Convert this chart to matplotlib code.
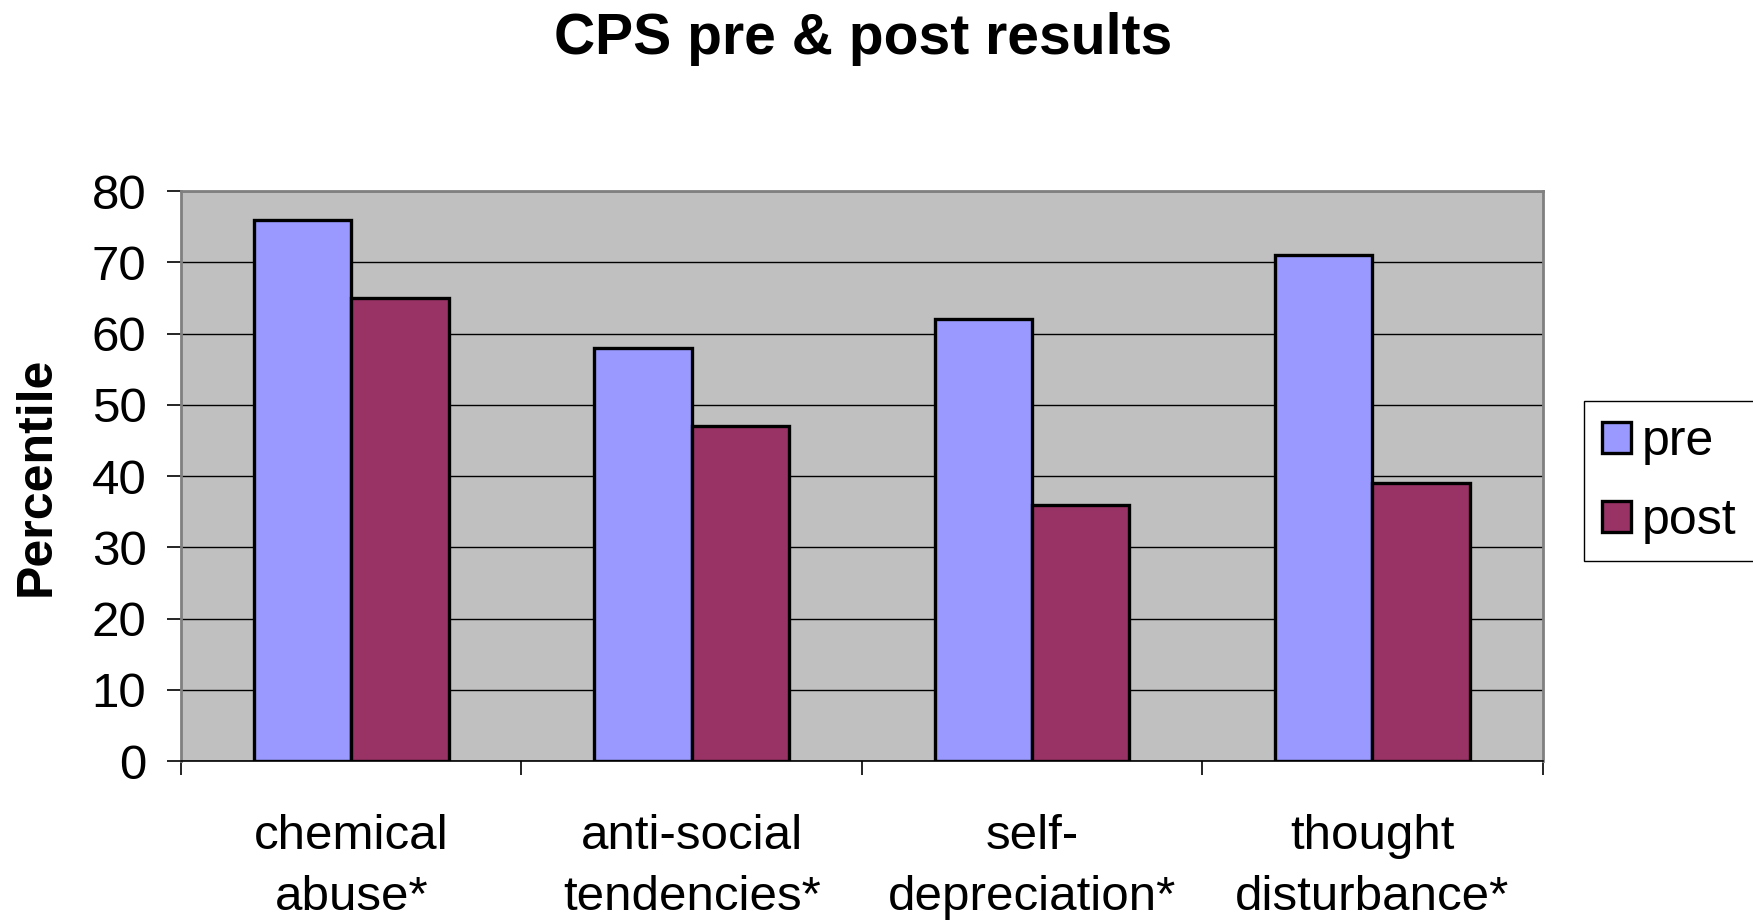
import numpy as np
import matplotlib
matplotlib.use("Agg")
import matplotlib.pyplot as plt
from matplotlib.ticker import FixedLocator

plt.rcParams["font.family"] = ["Liberation Sans", "DejaVu Sans"]

categories = ["chemical\nabuse*", "anti-social\ntendencies*", "self-\ndepreciation*", "thought\ndisturbance*"]
pre = [76, 58, 62, 71]
post = [65, 47, 36, 39]
y_ticks = [0, 10, 20, 30, 40, 50, 60, 70, 80]

pre_color = "#9999FF"
post_color = "#993366"

fig = plt.figure(figsize=(17.53, 9.22), dpi=100)
ax = fig.add_axes([0.1033, 0.1746, 0.7767, 0.6182])
ax.set_facecolor("#C0C0C0")

x = np.arange(len(categories))
w = 0.2857
ax.bar(x - w / 2, pre, w, color=pre_color, edgecolor="black", linewidth=2.4, label="pre", zorder=3)
ax.bar(x + w / 2, post, w, color=post_color, edgecolor="black", linewidth=2.4, label="post", zorder=3)

ax.set_xlim(-0.5, len(categories) - 0.5)
ax.set_ylim(0, 80)
ax.set_yticks(y_ticks)
ax.yaxis.grid(True, color="black", linewidth=1.0, zorder=1)
ax.set_axisbelow(True)

# category boundaries as major ticks, labels on minor ticks at the centres
ax.xaxis.set_major_locator(FixedLocator(np.arange(-0.5, len(categories), 1.0)))
ax.set_xticklabels([])
ax.xaxis.set_minor_locator(FixedLocator(x))
ax.set_xticklabels(categories, minor=True, fontsize=35.5, linespacing=1.47)
ax.tick_params(axis="x", which="major", direction="out", length=10, width=1.2, color="black")
ax.tick_params(axis="x", which="minor", length=0, pad=38)
ax.tick_params(axis="y", direction="out", length=10, width=1.2, color="black", labelsize=35.5, pad=15)

for side in ["top", "right", "left"]:
    ax.spines[side].set_color("#808080")
    ax.spines[side].set_linewidth(2)
ax.spines["bottom"].set_color("black")
ax.spines["bottom"].set_linewidth(1.2)

ax.set_ylabel("Percentile", fontsize=36, fontweight="bold", va="center")
ax.yaxis.set_label_coords(-0.106, 0.5)

fig.text(0.4923, 0.958, "CPS pre & post results", fontsize=41, fontweight="bold", ha="center", va="center")

leg = fig.legend(loc="center left", bbox_to_anchor=(0.9036, 0.478), borderaxespad=0, fontsize=36,
                 frameon=True, fancybox=False, edgecolor="black", framealpha=1,
                 handlelength=0.58, handleheight=0.58, handletextpad=0.22,
                 labelspacing=0.66, borderpad=0.35)
leg.get_frame().set_linewidth(1.0)

fig.savefig("out.png", dpi=100)
